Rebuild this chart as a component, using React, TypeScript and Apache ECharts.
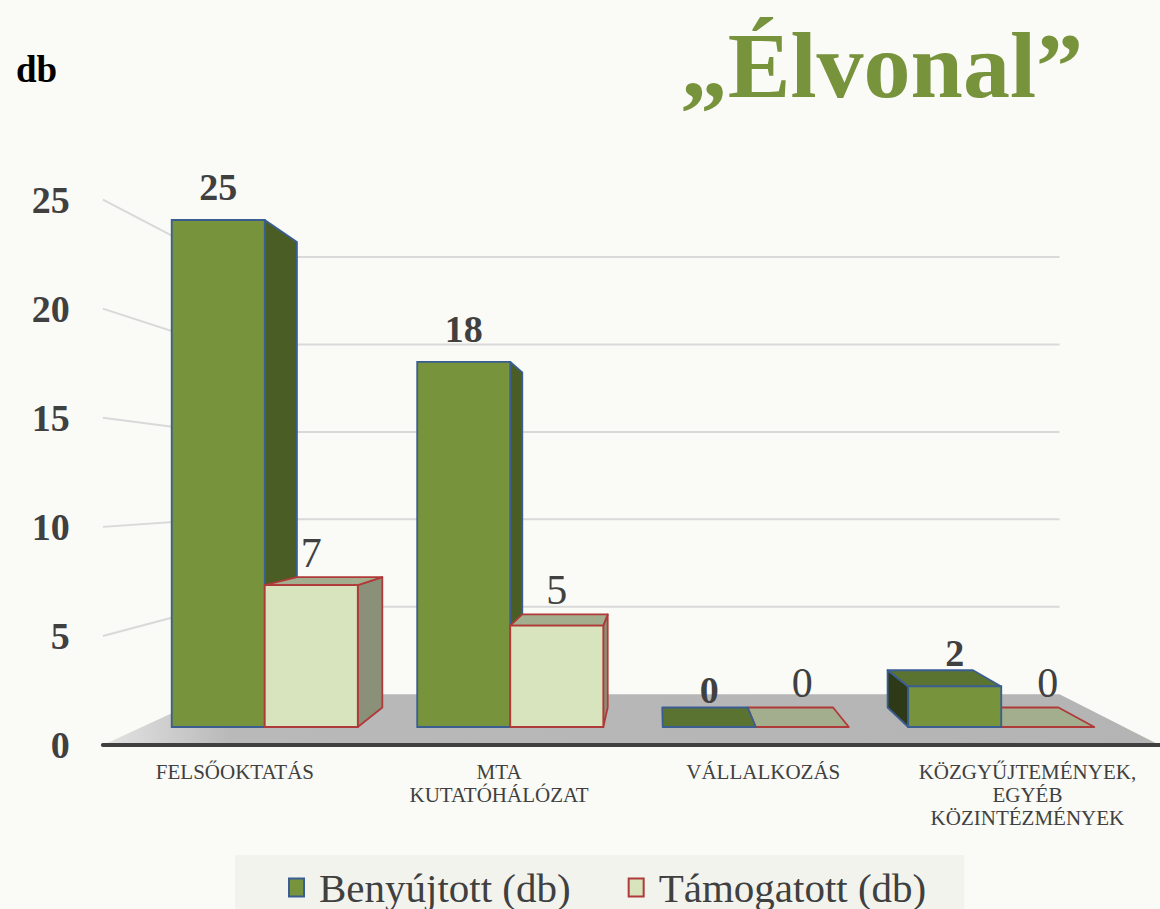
import React, { useEffect, useRef } from "react";
import * as echarts from "echarts";

// ---- data ----
const categories = [
  "FELSŐOKTATÁS",
  "MTA\nKUTATÓHÁLÓZAT",
  "VÁLLALKOZÁS",
  "KÖZGYŰJTEMÉNYEK,\nEGYÉB\nKÖZINTÉZMÉNYEK",
];
const submitted = [25, 18, 0, 2];
const supported = [7, 5, 0, 0];
const yTicks = [0, 5, 10, 15, 20, 25];
const seriesNames = ["Benyújtott (db)", "Támogatott (db)"];
const titleText = "„Élvonal”";
const unitText = "db";

// ---- view / styling ----
const W = 1160;
const H = 909;
const FONT = '"Liberation Serif", "Times New Roman", serif';
const VP = [657, 489]; // vanishing point of the perspective view
const S_FLOOR = 1.076; // depth scale of the floor front edge
const S_BAR_BACK = 0.918; // depth scale of the bars' back faces
const S_WALL = 0.862; // depth scale of the back wall
const G0 = { left: 142, right: 36, top: 220, bottom: 182 };
const BAR_RATIO = 0.379;

const STYLES = [
  {
    front: "#77933C",
    right: "#4A5D24",
    left: "#2E3A17",
    top: "#5B7331",
    border: "#3A5E92",
    font: `bold 38px ${FONT}`,
    lift: 0,
  },
  {
    front: "#D7E4BD",
    right: "#8B9179",
    left: "#6F745F",
    top: "#A3AE8E",
    border: "#B03A3A",
    font: `normal 42px ${FONT}`,
    lift: 5,
  },
];

function proj(x: number, y: number, s: number): number[] {
  return [VP[0] + (x - VP[0]) * s, VP[1] + (y - VP[1]) * s];
}

const grid1 = {
  left: proj(G0.left, 0, S_FLOOR)[0],
  right: W - proj(W - G0.right, 0, S_FLOOR)[0],
  top: proj(0, G0.top, S_FLOOR)[1],
  bottom: H - proj(0, H - G0.bottom, S_FLOOR)[1],
};

function makeBarRender(idx: number) {
  return (params: any, api: any) => {
    const cat = api.value(0);
    const v = api.value(1);
    const top = api.coord([cat, v]);
    const base = api.coord([cat, 0]);
    const band = api.size([1, 0])[0];
    const bw = band * BAR_RATIO;
    const x0 = idx === 0 ? top[0] - bw : top[0];
    const x1 = x0 + bw;
    const yT = top[1];
    const yB = base[1];
    const st = STYLES[idx];
    const cx = (x0 + x1) / 2;
    const z = 100 + Math.round(1000 - Math.abs(cx - VP[0]));
    const bT0 = proj(x0, yT, S_BAR_BACK);
    const bT1 = proj(x1, yT, S_BAR_BACK);
    const bB0 = proj(x0, yB, S_BAR_BACK);
    const bB1 = proj(x1, yB, S_BAR_BACK);
    const poly = (pts: number[][], fill: string) => ({
      type: "polygon",
      z2: z,
      shape: { points: pts },
      style: { fill, stroke: st.border, lineWidth: 1.8, lineJoin: "round" },
    });
    const children: any[] = [];
    if (v > 0 && x1 < VP[0]) children.push(poly([[x1, yT], [x1, yB], bB1, bT1], st.right));
    if (v > 0 && x0 > VP[0]) children.push(poly([[x0, yT], [x0, yB], bB0, bT0], st.left));
    const topVisible = yT > VP[1];
    if (topVisible) children.push(poly([[x0, yT], [x1, yT], bT1, bT0], st.top));
    if (v > 0) {
      children.push({
        type: "rect",
        z2: z + 1,
        shape: { x: x0, y: yT, width: bw, height: yB - yT },
        style: { fill: st.front, stroke: st.border, lineWidth: 1.8 },
      });
    }
    const ly = (topVisible ? Math.min(yT, bT0[1]) + 2 : yT - 14) - st.lift;
    children.push({
      type: "text",
      z2: 5000,
      style: {
        text: String(v),
        x: cx,
        y: ly,
        align: "center",
        verticalAlign: "bottom",
        fill: "#404040",
        font: st.font,
      },
    });
    return { type: "group", children };
  };
}

function wallRender(params: any, api: any) {
  const v = api.value(1);
  const cs = params.coordSys;
  const y = api.coord([0, v])[1];
  const xl = cs.x;
  const xr = cs.x + cs.width;
  if (v === 0) {
    return {
      type: "polygon",
      z2: 1,
      shape: {
        points: [proj(xl, y, S_FLOOR), proj(xr, y, S_FLOOR), proj(xr, y, S_WALL), proj(xl, y, S_WALL)],
      },
      style: {
        fill: new echarts.graphic.LinearGradient(0, 0, 1, 0, [
          { offset: 0, color: "#E4E4E4" },
          { offset: 0.12, color: "#B9B9B9" },
          { offset: 1, color: "#B4B4B4" },
        ]),
      },
    };
  }
  const a = proj(xl, y, S_FLOOR);
  const b = proj(xl, y, S_WALL);
  const c = proj(xr, y, S_WALL);
  return {
    type: "group",
    children: [
      { type: "line", z2: 2, shape: { x1: a[0], y1: a[1], x2: b[0], y2: b[1] }, style: { stroke: "#D9D9D9", lineWidth: 2 } },
      { type: "line", z2: 2, shape: { x1: b[0], y1: b[1], x2: c[0], y2: c[1] }, style: { stroke: "#D9D9D9", lineWidth: 2 } },
    ],
  };
}

export default function App() {
  const ref = useRef<HTMLDivElement>(null);
  useEffect(() => {
    if (!ref.current) return;
    const chart = echarts.init(ref.current, null, { renderer: "svg" });
    chart.setOption({
      animation: false,
      backgroundColor: "#FAFAF6",
      title: [
        {
          text: titleText,
          right: 72,
          top: 13,
          textStyle: { fontFamily: FONT, fontSize: 94, fontWeight: "bold", color: "#77933C" },
        },
        {
          text: unitText,
          left: 11,
          top: 46,
          textStyle: { fontFamily: FONT, fontSize: 37, fontWeight: "bold", color: "#000000" },
        },
      ],
      legend: {
        data: seriesNames.map((n, i) => ({
          name: n,
          icon: "rect",
          itemStyle: { color: STYLES[i].front, borderColor: STYLES[i].border, borderWidth: 2 },
        })),
        left: 235,
        top: 855,
        backgroundColor: "#F3F3EE",
        padding: [12, 38, 30, 53],
        itemWidth: 15,
        itemHeight: 18,
        itemGap: 57,
        selectedMode: false,
        textStyle: { fontFamily: FONT, fontSize: 41, color: "#404040", padding: [0, 0, 0, 10] },
      },
      grid: [
        { left: G0.left, right: G0.right, top: G0.top, bottom: G0.bottom },
        { left: grid1.left, right: grid1.right, top: grid1.top, bottom: grid1.bottom },
      ],
      xAxis: [
        { type: "category", gridIndex: 0, data: categories, show: false },
        {
          type: "category",
          gridIndex: 1,
          data: categories,
          z: 3,
          axisLine: { show: true, lineStyle: { color: "#404040", width: 4 } },
          axisTick: { show: false },
          axisLabel: {
            margin: 15,
            fontFamily: FONT,
            fontSize: 21,
            lineHeight: 23,
            color: "#404040",
            interval: 0,
          },
        },
      ],
      yAxis: [
        { type: "value", gridIndex: 0, min: 0, max: 25, interval: 5, show: false },
        {
          type: "value",
          gridIndex: 1,
          min: 0,
          max: 25,
          interval: 5,
          axisLine: { show: false },
          axisTick: { show: false },
          splitLine: { show: false },
          axisLabel: {
            margin: 33,
            fontFamily: FONT,
            fontSize: 38,
            fontWeight: "bold",
            color: "#404040",
          },
        },
      ],
      series: [
        {
          type: "custom",
          name: "wall",
          xAxisIndex: 0,
          yAxisIndex: 0,
          z: 1,
          clip: false,
          silent: true,
          data: yTicks.map((t) => [0, t]),
          renderItem: wallRender,
        },
        {
          type: "custom",
          name: seriesNames[0],
          xAxisIndex: 0,
          yAxisIndex: 0,
          z: 2,
          clip: false,
          itemStyle: { color: STYLES[0].front, borderColor: STYLES[0].border },
          data: submitted.map((v, i) => [i, v]),
          renderItem: makeBarRender(0),
        },
        {
          type: "custom",
          name: seriesNames[1],
          xAxisIndex: 0,
          yAxisIndex: 0,
          z: 2,
          clip: false,
          itemStyle: { color: STYLES[1].front, borderColor: STYLES[1].border },
          data: supported.map((v, i) => [i, v]),
          renderItem: makeBarRender(1),
        },
      ],
    });
    return () => chart.dispose();
  }, []);
  return <div ref={ref} style={{ position: "absolute", left: 0, top: 0, width: W, height: H }} />;
}
